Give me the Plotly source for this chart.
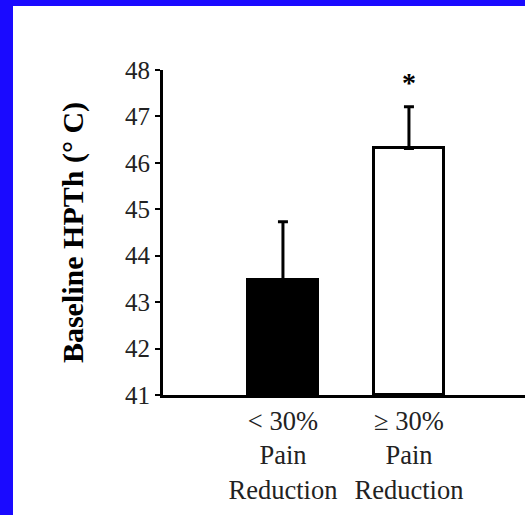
import plotly.graph_objects as go

categories = ["< 30%<br>Pain<br>Reduction", "\u2265 30%<br>Pain<br>Reduction"]
means = [43.48, 46.31]
errors = [1.25, 0.9]
bar_colors = ["black", "white"]
y_ticks = [41, 42, 43, 44, 45, 46, 47, 48]
significance = ["", "*"]

FONT = "'Liberation Serif', 'Times New Roman', Times, serif"
BLUE = "#1a0aff"

fig = go.Figure()
fig.add_trace(go.Bar(
    x=[0, 1],
    y=[m - 41 for m in means],
    base=41,
    width=0.55,
    marker=dict(color=bar_colors, line=dict(color="black", width=3)),
    error_y=dict(type="data", symmetric=False, array=errors,
                 arrayminus=[0, 0], color="black", thickness=3, width=5),
    showlegend=False,
    hoverinfo="skip",
))

for i, s in enumerate(significance):
    if s:
        fig.add_annotation(x=i, y=means[i] + errors[i], text="<b>" + s + "</b>",
                           showarrow=False, yanchor="bottom", yshift=7,
                           font=dict(family=FONT, size=28, color="black"))

fig.update_layout(
    width=525, height=515,
    margin=dict(l=163, r=0, t=70, b=120, pad=0),
    paper_bgcolor="white",
    plot_bgcolor="white",
    bargap=0,
    shapes=[
        dict(type="rect", xref="paper", yref="paper",
             x0=-163 / 362, x1=(13 - 163) / 362, y0=-120 / 325, y1=445 / 325,
             fillcolor=BLUE, line=dict(width=0), layer="above"),
        dict(type="rect", xref="paper", yref="paper",
             x0=-163 / 362, x1=1.0, y0=(395 - 6) / 325, y1=445 / 325,
             fillcolor=BLUE, line=dict(width=0), layer="above"),
    ],
    xaxis=dict(
        range=[-0.952, 1.921],
        tickmode="array", tickvals=[0, 1], ticktext=categories,
        ticks="", showgrid=False, zeroline=False,
        showline=True, linecolor="black", linewidth=3,
        tickfont=dict(family=FONT, size=26.5, color="#222"),
        fixedrange=True,
    ),
    yaxis=dict(
        range=[41, 48],
        tickmode="array", tickvals=y_ticks,
        ticks="outside", ticklen=5, tickwidth=2, tickcolor="black",
        showgrid=False, zeroline=False,
        showline=True, linecolor="black", linewidth=3,
        tickfont=dict(family=FONT, size=25, color="#222"),
        title=dict(text="<b>Baseline HPTh (\u00b0 C)</b>",
                   font=dict(family=FONT, size=30, color="black"),
                   standoff=33),
        fixedrange=True,
    ),
)

fig.write_html("out.html",
               config={"displayModeBar": False},
               post_script="document.body.style.margin='0';document.body.style.padding='0';")
